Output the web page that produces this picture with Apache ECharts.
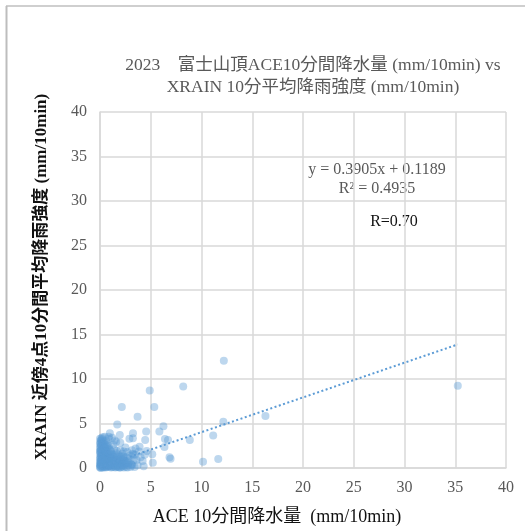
<!DOCTYPE html>
<html>
<head>
<meta charset="utf-8">
<script src="https://cdn.jsdelivr.net/npm/echarts@6/dist/echarts.min.js"></script>
<style>
  html, body { margin: 0; padding: 0; background: #fff; }
  #chart { width: 525px; height: 531px; }
</style>
</head>
<body>
<div id="chart"></div>
<script>
// 10-minute precipitation: ACE at the Mt. Fuji summit (x) vs XRAIN 4-point mean (y), mm/10min
const rainPairs = [
  // isolated events
  [12.2, 12.05], [8.2, 9.15], [4.9, 8.7], [2.15, 6.85], [5.35, 6.85], [3.7, 5.75],
  [1.7, 4.9], [6.25, 4.7], [3.25, 3.9], [1.95, 3.7], [4.55, 4.1], [5.85, 4.1],
  [6.4, 3.25], [6.7, 3.15], [8.85, 3.15], [11.15, 3.65], [12.15, 5.2], [16.3, 5.85],
  [10.15, 0.7], [11.65, 1.0], [6.85, 1.2], [6.95, 1.05], [4.45, 3.15], [3.9, 2.4],
  [2.9, 3.3], [2.0, 2.85], [5.15, 1.55], [5.2, 0.6], [4.3, 0.2], [3.4, 0.1],
  [6.35, 2.35], [0.87, 3.5], [35.25, 9.25], [3.45, 1.5], [4.4, 1.5], [3.1, 0.4],
  [3.24, 3.33], [3.3, 1.52], [3.85, 1.85], [3.18, 0.27],
  // light rain near the origin
  [0.0, 0.05], [0.1, 0.2], [0.0, 0.4], [0.2, 0.6], [0.1, 0.8], [0.0, 1.0], [0.3, 1.2],
  [0.1, 1.4], [0.0, 1.6], [0.2, 1.8], [0.1, 2.0], [0.0, 2.2], [0.3, 2.35], [0.1, 2.5],
  [0.0, 2.7], [0.2, 2.9], [0.1, 3.1], [0.0, 3.3], [0.25, 3.45], [0.05, 1.9], [0.15, 1.1],
  [0.3, 0.3], [0.05, 0.55], [0.25, 2.6], [0.35, 3.0],
  [0.45, 0.1], [0.5, 0.35], [0.6, 0.6], [0.4, 0.85], [0.7, 1.05], [0.55, 1.3], [0.8, 1.5],
  [0.45, 1.7], [0.65, 1.95], [0.9, 2.15], [0.5, 2.4], [0.75, 2.7], [0.6, 3.05], [0.47, 3.52],
  [0.97, 3.9], [0.87, 3.3], [0.8, 0.2], [0.95, 0.5], [0.9, 0.9], [0.7, 1.7], [1.0, 1.2],
  [0.85, 2.5],
  [1.1, 0.05], [1.2, 0.3], [1.05, 0.55], [1.35, 0.8], [1.15, 1.0], [1.5, 1.2], [1.25, 1.45],
  [1.6, 1.65], [1.1, 1.85], [1.4, 2.1], [1.7, 0.15], [1.55, 0.45], [1.75, 0.7], [1.3, 2.6],
  [1.6, 2.95], [1.2, 3.4], [1.45, 3.1], [1.8, 1.0], [1.65, 1.9],
  [1.9, 0.05], [2.0, 0.3], [2.15, 0.55], [1.95, 0.8], [2.3, 0.2], [2.25, 1.05], [2.1, 1.3],
  [2.45, 0.45], [2.4, 0.8], [2.6, 0.1], [2.55, 1.2], [2.2, 1.6], [2.0, 2.0], [2.35, 1.85],
  [2.5, 2.3],
  [2.75, 0.35], [2.9, 0.75], [3.0, 0.1], [2.8, 1.1], [3.1, 0.4], [3.2, 1.6], [2.95, 1.4],
  [3.3, 0.9], [2.7, 1.8], [3.15, 2.0],
  [3.6, 0.9], [4.0, 1.2], [3.5, 2.2], [4.2, 0.8], [3.7, 0.3], [4.6, 1.9],
  [0.2, 0.1], [0.4, 0.3], [0.6, 0.15], [0.8, 0.4], [1.0, 0.7], [1.3, 0.1], [1.5, 0.6],
  [1.7, 0.35], [0.3, 0.95], [0.6, 1.15], [0.9, 1.35], [1.2, 0.95], [0.35, 1.55], [0.75, 0.75],
  [1.0, 0.25], [1.4, 0.5], [2.0, 0.6], [1.85, 1.4], [2.2, 0.9], [0.55, 0.05], [0.15, 0.5],
  [0.05, 1.3], [0.2, 1.5], [0.3, 1.7], [0.15, 2.1], [0.4, 2.0], [0.65, 0.4], [0.85, 1.1],
  [1.1, 1.6], [1.3, 1.25], [1.6, 0.9], [1.9, 0.5], [2.1, 0.15], [2.4, 0.35], [2.6, 0.6],
  [0.1, 0.0], [0.35, 0.2], [0.7, 0.5], [1.15, 0.45], [1.45, 0.25], [1.8, 0.1], [0.25, 0.75],
  [0.5, 0.9], [0.95, 0.15], [1.25, 0.65], [0.05, 2.8], [0.2, 3.2], [0.4, 2.7], [0.6, 2.2],
  [0.0, 0.15], [0.05, 0.3], [0.1, 0.45], [0.0, 0.7], [0.15, 0.9], [0.05, 1.15], [0.2, 1.35],
  [0.1, 1.7], [0.0, 1.85], [0.25, 2.05], [0.05, 2.4], [0.15, 2.65], [0.3, 0.05], [0.45, 0.5],
  [0.55, 0.7], [0.35, 1.05], [0.5, 1.2], [0.4, 1.45], [0.65, 1.55], [0.55, 1.85], [0.75, 0.1],
  [0.7, 0.3], [0.85, 0.6], [0.75, 0.95], [0.95, 1.05], [1.05, 0.35], [1.2, 0.15], [1.25, 0.8],
  [1.05, 1.4], [1.35, 0.4], [1.5, 0.05], [1.45, 0.95], [1.6, 0.3], [1.65, 0.6], [1.4, 1.5],
  [1.75, 1.25], [1.85, 0.25], [1.95, 0.65], [2.05, 1.1], [2.25, 0.4], [2.35, 0.05], [2.5, 0.7],
  [2.7, 0.05], [2.3, 1.3], [0.05, 3.0], [0.15, 3.35], [0.3, 2.75], [0.45, 2.25], [0.25, 1.0],
  [0.8, 1.8], [1.0, 2.0], [0.7, 2.4], [0.1, 0.65], [0.3, 0.5], [0.6, 0.85], [0.9, 0.3],
  [1.1, 0.8], [1.55, 0.15], [2.0, 0.05], [2.8, 0.6], [0.35, 2.2], [0.55, 2.6]
];

// Least-squares fit as stated on the chart
const fitSlope = 0.3905;
const fitIntercept = 0.1189;
const fitR2 = 0.4935;
const fitR = 0.70;

const xTicks = { min: 0, max: 40, step: 5 };
const yTicks = { min: 0, max: 40, step: 5 };

const xMax = Math.max(...rainPairs.map(p => p[0]));
const fitLine = [[0, fitIntercept], [xMax, fitSlope * xMax + fitIntercept]];

const serif = '"Liberation Serif", "Times New Roman", "Noto Sans CJK JP", serif';
const gridColor = '#d9d9d9';

const chart = echarts.init(document.getElementById('chart'), null, { renderer: 'canvas' });
chart.setOption({
  animation: false,
  backgroundColor: '#ffffff',
  title: {
    text: '2023\u3000富士山頂ACE10分間降水量 (mm/10min) vs\nXRAIN 10分平均降雨強度 (mm/10min)',
    left: 308,
    top: 49,
    textAlign: 'center',
    textStyle: {
      fontFamily: serif, fontSize: 17.5, fontWeight: 'normal',
      color: '#595959', lineHeight: 22
    }
  },
  grid: { left: 100, top: 112, width: 406, height: 360 },
  xAxis: {
    type: 'value',
    min: xTicks.min, max: xTicks.max, interval: xTicks.step,
    name: 'ACE 10分間降水量  (mm/10min)',
    nameLocation: 'middle',
    nameGap: 40,
    nameTextStyle: {
      fontFamily: serif, fontSize: 18, color: '#111111',
      padding: [0, 52, 0, 0]
    },
    axisLine: { show: true, lineStyle: { color: gridColor, width: 1.5 } },
    axisTick: { show: false },
    axisLabel: { fontFamily: serif, fontSize: 16, color: '#595959', margin: 12 },
    splitLine: { show: true, lineStyle: { color: gridColor, width: 1.5 } }
  },
  yAxis: {
    type: 'value',
    min: yTicks.min, max: yTicks.max, interval: yTicks.step,
    name: 'XRAIN 近傍4点10分間平均降雨強度 (mm/10min)',
    nameLocation: 'middle',
    nameGap: 50,
    nameTextStyle: {
      fontFamily: serif, fontSize: 17, fontWeight: 'bold', color: '#111111',
      padding: [0, 0, 0, 26]
    },
    axisLine: { show: true, lineStyle: { color: gridColor, width: 1.5 } },
    axisTick: { show: false },
    axisLabel: { fontFamily: serif, fontSize: 16, color: '#595959', margin: 13 },
    splitLine: { show: true, lineStyle: { color: gridColor, width: 1.5 } }
  },
  graphic: [
    // chart frame
    { type: 'line', shape: { x1: 6, y1: 6, x2: 525, y2: 6 }, style: { stroke: '#bfbfbf', lineWidth: 1.5 } },
    { type: 'line', shape: { x1: 6.5, y1: 6, x2: 6.5, y2: 531 }, style: { stroke: '#bdbdbd', lineWidth: 2 } },
    {
      type: 'text', x: 377, y: 170,
      style: {
        text: 'y = ' + fitSlope.toFixed(4) + 'x + ' + fitIntercept.toFixed(4),
        font: '16px ' + serif, fill: '#595959', align: 'center', verticalAlign: 'middle'
      }
    },
    {
      type: 'text', x: 377, y: 189,
      style: {
        text: 'R² = ' + fitR2.toFixed(4),
        font: '16px ' + serif, fill: '#595959', align: 'center', verticalAlign: 'middle'
      }
    },
    {
      type: 'text', x: 394, y: 222,
      style: {
        text: 'R=' + fitR.toFixed(2),
        font: '16px ' + serif, fill: '#111111', align: 'center', verticalAlign: 'middle'
      }
    }
  ],
  series: [
    {
      type: 'scatter',
      data: rainPairs,
      symbol: 'circle',
      symbolSize: 8,
      itemStyle: { color: '#5B9BD5', opacity: 0.4 }
    },
    {
      type: 'line',
      data: fitLine,
      symbol: 'none',
      lineStyle: { color: '#5B9BD5', width: 2, type: [2, 2.5] },
      z: 3
    }
  ]
});
</script>
</body>
</html>
